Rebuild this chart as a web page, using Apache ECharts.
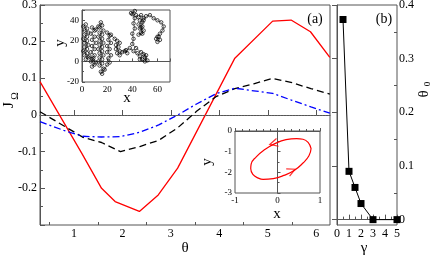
<!DOCTYPE html>
<html><head><meta charset="utf-8">
<script src="https://cdn.jsdelivr.net/npm/echarts@6/dist/echarts.min.js"></script>
<style>html,body{margin:0;padding:0;background:#fff}#c{width:436px;height:256px}</style>
</head><body><div id="c"></div>
<script>
// ---- panel (a) data ----
const redTheta = [0.3,1.16,1.57,1.85,2.35,2.74,3.14,4.32,5.1,5.48,5.88,6.28];
const redJ     = [0.091,-0.104,-0.2,-0.236,-0.263,-0.218,-0.145,0.155,0.256,0.259,0.227,0.157];
const blackTheta = [0.3,1.19,1.57,1.96,2.36,2.75,3.14,3.53,3.93,4.32,4.71,5.1,5.5,5.89,6.28];
const blackJ     = [0.009,-0.061,-0.075,-0.1,-0.086,-0.069,-0.035,0.01,0.05,0.072,0.085,0.1,0.088,0.072,0.057];
const blueTheta = [0.3,0.79,1.18,1.57,1.96,2.36,2.75,3.14,3.53,3.93,4.32,4.71,5.1,5.5,5.89,6.28];
const blueJ     = [-0.018,-0.042,-0.058,-0.06,-0.059,-0.047,-0.027,0.0,0.03,0.058,0.073,0.066,0.059,0.04,0.022,0.005];
const thetaTicks = [1,2,3,4,5,6];
const thetaMinor = [0.5,1.5,2.5,3.5,4.5,5.5];
// ---- panel (b) data ----
const gamma  = [0.5,1,1.5,2,3,5];
const theta0 = [0.373,0.09,0.06,0.03,0.0,0.0];
const theta0Ticks = [0,0.1,0.2,0.3,0.4];
const theta0Minor = [0.05,0.15,0.25,0.35];
// ---- inset: trajectory (x, y pairs) ----
const trajPts = [
 [3,36],[1,34],[4,32],[2,30],[5,28],[2,26],[4,24],[1,22],[4,20],[2,18],[5,16],[2,14],[4,12],[1,10],[4,8],[2,6],[5,4],[3,2],
 [6,5],[9,3],[7,0],[10,-3],[8,-5],[11,-1],[8,2],[10,6],[7,9],[10,12],[8,15],[11,18],[8,21],[10,24],[7,27],[10,30],[8,33],[11,31],
 [13,34],[15,38],[16,35],[14,33],[17,30],[14,28],[16,26],[13,24],[16,22],[14,20],[17,18],[14,16],[16,14],[13,12],[16,10],[14,8],[17,6],[14,4],[16,2],[13,0],[16,-2],[14,-4],[17,-7],[15,-10],[16,-12],[18,-8],
 [20,-3],[22,-1],[21,3],[23,6],[20,9],[22,12],[20,15],[23,18],[21,21],[22,25],[20,28],[23,26],
 [26,22],[28,20],[30,18],[27,16],[29,14],[27,12],[30,10],[28,8],[30,6],[32,9],[35,11],[36,8],[34,10],[38,13],
 [41,10],[44,8],[46,5],[48,2],[50,4],[52,1],[49,7],[46,2],[50,0],[51,6],[47,9],[43,13],[40,17],
 [41,22],[40,27],[42,32],[41,37],[42,42],[40,46],[42,49],[39,47],[43,45],
 [45,43],[47,45],[49,42],[46,40],[48,38],[45,36],[48,34],[46,32],[49,30],[47,28],[45,26],[48,27],[47,33],[49,40],[51,44],
 [54,45],[57,42],[60,40],[63,38],[65,34],[64,30],[62,27],[60,24],[62,21],[60,19],[59,22],[61,24]
];
// ---- inset: orbit ----
const orbitX = [0.79,0.72,0.6,0.45,0.2,-0.05,-0.3,-0.5,-0.62,-0.63,-0.58,-0.45,-0.34,-0.1,0.15,0.4,0.6,0.74,0.79];
const orbitY = [-0.85,-0.55,-0.4,-0.37,-0.42,-0.6,-0.9,-1.25,-1.6,-1.82,-2.1,-2.28,-2.34,-2.3,-2.15,-1.9,-1.55,-1.2,-0.85];
const arrowX = [-0.09,0.33];
const arrowY = [-0.6,-1.93];

const zip = (a,b)=>a.map((v,i)=>[v,b[i]]);
const FONT = 'Liberation Serif';
const AX = '#555';
const fmt1 = v => Math.abs(v)<1e-9 ? '0' : v.toFixed(1);

function axBase(extra){
  return Object.assign({
    type:'value', splitLine:{show:false},
    axisLine:{show:true,lineStyle:{color:AX,width:1}},
    axisTick:{show:true,inside:true,length:5,lineStyle:{color:AX,width:1}},
    minorTick:{show:false},
    axisLabel:{fontFamily:FONT,fontSize:12,color:'#000',margin:3}
  }, extra);
}

const chart = echarts.init(document.getElementById('c'));
chart.setOption({
  animation:false,
  backgroundColor:'#fff',
  grid:[
    {left:40,top:5,width:290,height:220,show:true,borderColor:AX,borderWidth:1,outerBoundsMode:'none'},
    {left:337,top:5,width:60,height:220,show:true,borderColor:AX,borderWidth:1,outerBoundsMode:'none'},
    {left:82,top:10,width:88,height:72,show:true,borderColor:AX,borderWidth:1,backgroundColor:'#fff',outerBoundsMode:'none'},
    {left:235,top:131,width:85,height:62,show:true,borderColor:AX,borderWidth:1,backgroundColor:'#fff',outerBoundsMode:'none'}
  ],
  xAxis:[
    axBase({gridIndex:0,position:'bottom',min:0.3,max:6.2832,
      axisTick:{show:true,inside:true,length:5,lineStyle:{color:AX},customValues:thetaTicks},
      axisLabel:{fontFamily:FONT,fontSize:12,color:'#000',margin:3,customValues:thetaTicks}}),
    axBase({gridIndex:0,position:'bottom',min:0.3,max:6.2832,axisLine:{show:false},
      axisTick:{show:true,inside:true,length:3,lineStyle:{color:AX},customValues:thetaMinor},
      axisLabel:{show:false}}),
    axBase({gridIndex:1,position:'bottom',min:0,max:5,interval:1,
      minorTick:{show:true,splitNumber:2,length:3,lineStyle:{color:AX}}}),
    axBase({gridIndex:2,position:'bottom',min:0,max:70,interval:20,
      axisTick:{show:true,inside:true,length:3,lineStyle:{color:AX}},
      minorTick:{show:true,splitNumber:2,length:2,lineStyle:{color:AX}},
      axisLabel:{fontFamily:FONT,fontSize:9,color:'#000',margin:3,showMaxLabel:false}}),
    axBase({gridIndex:3,position:'bottom',min:-1,max:1,interval:1,
      axisTick:{show:true,inside:true,length:3,lineStyle:{color:AX}},
      minorTick:{show:true,splitNumber:6,length:2,lineStyle:{color:AX}},
      axisLabel:{fontFamily:FONT,fontSize:9,color:'#000',margin:3}})
  ],
  yAxis:[
    axBase({gridIndex:0,position:'left',min:-0.3,max:0.3,interval:0.1,
      minorTick:{show:true,splitNumber:2,length:3,lineStyle:{color:AX}},
      axisLabel:{fontFamily:FONT,fontSize:12,color:'#000',margin:3,showMinLabel:false,formatter:fmt1}}),
    axBase({gridIndex:1,position:'right',min:-0.01,max:0.4,
      axisTick:{show:true,inside:true,length:5,lineStyle:{color:AX},customValues:theta0Ticks},
      axisLabel:{fontFamily:FONT,fontSize:12,color:'#000',margin:2,customValues:theta0Ticks,formatter:fmt1}}),
    axBase({gridIndex:1,position:'right',min:-0.01,max:0.4,axisLine:{show:false},
      axisTick:{show:true,inside:true,length:3,lineStyle:{color:AX},customValues:theta0Minor},
      axisLabel:{show:false}}),
    axBase({gridIndex:2,position:'left',min:-20,max:50,interval:20,
      axisTick:{show:true,inside:true,length:3,lineStyle:{color:AX}},
      minorTick:{show:true,splitNumber:2,length:2,lineStyle:{color:AX}},
      axisLabel:{fontFamily:FONT,fontSize:9,color:'#000',margin:3,showMaxLabel:false}}),
    axBase({gridIndex:3,position:'left',min:-3,max:0,interval:1,
      axisTick:{show:true,inside:true,length:3,lineStyle:{color:AX}},
      minorTick:{show:true,splitNumber:2,length:2,lineStyle:{color:AX}},
      axisLabel:{fontFamily:FONT,fontSize:9,color:'#000',margin:3}})
  ],
  series:[
    {type:'line',xAxisIndex:0,yAxisIndex:0,data:zip(redTheta,redJ),showSymbol:false,clip:true,
      lineStyle:{color:'#ff0000',width:1.3},
      markLine:{silent:true,symbol:['none','none'],label:{show:false},
        lineStyle:{type:[1,2],color:'#666',width:1},data:[{yAxis:0}]}},
    {type:'line',xAxisIndex:0,yAxisIndex:0,data:zip(blackTheta,blackJ),showSymbol:false,clip:true,
      lineStyle:{color:'#000',width:1.3,type:[7,4]}},
    {type:'line',xAxisIndex:0,yAxisIndex:0,data:zip(blueTheta,blueJ),showSymbol:false,clip:true,
      lineStyle:{color:'#0000ff',width:1.3,type:[7,3,2,3]}},
    {type:'line',xAxisIndex:2,yAxisIndex:1,data:zip(gamma,theta0),symbol:'rect',symbolSize:7,clip:false,
      lineStyle:{color:'#000',width:1},itemStyle:{color:'#000'}},
    {type:'line',xAxisIndex:3,yAxisIndex:3,data:trajPts,symbol:'circle',symbolSize:3.5,
      lineStyle:{color:'#222',width:0.6},itemStyle:{color:'rgba(0,0,0,0)',borderColor:'#000',borderWidth:0.7}},
    {type:'line',xAxisIndex:4,yAxisIndex:4,data:zip(orbitX,orbitY),smooth:true,showSymbol:false,
      lineStyle:{color:'#ff0000',width:1.2}},
    {type:'scatter',xAxisIndex:4,yAxisIndex:4,data:zip(arrowX,arrowY),z:5,
      symbol:'path://M10,0 L0,5 L10,10',symbolSize:[8,8],
      symbolRotate:(v,p)=>p.dataIndex===0?15:205,
      itemStyle:{color:'rgba(0,0,0,0)',borderColor:'#ff0000',borderWidth:1.2}}
  ],
  graphic:[
    {type:'text',x:315,y:19,style:{text:'(a)',font:'14px "Liberation Serif"',fill:'#000',align:'center',verticalAlign:'middle'}},
    {type:'text',x:384,y:19,style:{text:'(b)',font:'14px "Liberation Serif"',fill:'#000',align:'center',verticalAlign:'middle'}},
    {type:'text',x:9,y:105,rotation:Math.PI/2,style:{text:'J',font:'15px "Liberation Serif"',fill:'#000',align:'center',verticalAlign:'middle'}},
    {type:'text',x:15,y:96,rotation:Math.PI/2,style:{text:'Ω',font:'10px "Liberation Serif"',fill:'#000',align:'center',verticalAlign:'middle'}},
    {type:'text',x:424,y:94,rotation:Math.PI/2,style:{text:'θ',font:'15px "Liberation Serif"',fill:'#000',align:'center',verticalAlign:'middle'}},
    {type:'text',x:428,y:84,rotation:Math.PI/2,style:{text:'0',font:'9px "Liberation Serif"',fill:'#000',align:'center',verticalAlign:'middle'}},
    {type:'text',x:185,y:248,style:{text:'θ',font:'15px "Liberation Serif"',fill:'#000',align:'center',verticalAlign:'middle'}},
    {type:'text',x:364,y:248,style:{text:'γ',font:'15px "Liberation Serif"',fill:'#000',align:'center',verticalAlign:'middle'}},
    {type:'text',x:60,y:43,rotation:Math.PI/2,style:{text:'y',font:'15px "Liberation Serif"',fill:'#000',align:'center',verticalAlign:'middle'}},
    {type:'text',x:127,y:98,style:{text:'x',font:'15px "Liberation Serif"',fill:'#000',align:'center',verticalAlign:'middle'}},
    {type:'text',x:207,y:162,rotation:Math.PI/2,style:{text:'y',font:'15px "Liberation Serif"',fill:'#000',align:'center',verticalAlign:'middle'}},
    {type:'text',x:277,y:214,style:{text:'x',font:'15px "Liberation Serif"',fill:'#000',align:'center',verticalAlign:'middle'}}
  ]
});
</script></body></html>
